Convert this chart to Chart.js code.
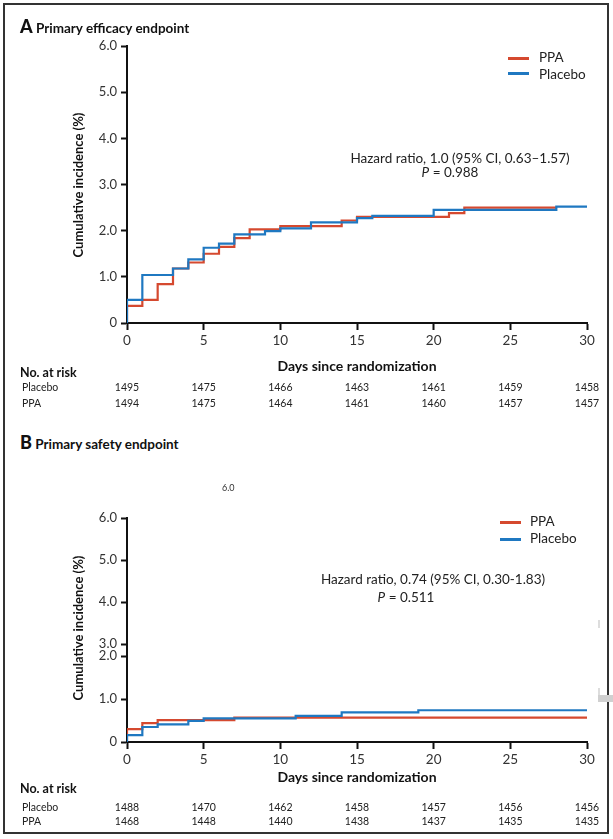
<!DOCTYPE html>
<html><head><meta charset="utf-8">
<script src="https://cdn.jsdelivr.net/npm/chart.js@4.4.1/dist/chart.umd.min.js"></script>
<style>
html,body{margin:0;padding:0}
body{width:613px;height:839px;position:relative;background:#fff;font-family:Lato,'Open Sans',sans-serif;color:#222;overflow:hidden}
.t{position:absolute;white-space:nowrap;line-height:1}
#frame{position:absolute;left:3px;top:3px;width:602px;height:827px;border:2px solid #333;box-sizing:content-box}
.cv{position:absolute;left:0}
.ttl{font-weight:700;font-size:13.5px;color:#111}
.ttl b{font-size:18px;font-weight:900}
.leg{font-size:13.5px;color:#222}
.legline{position:absolute;height:3px;width:21px}
.ann{font-size:13.5px;color:#222;text-align:center}
.ytitle{font-weight:700;font-size:13px;color:#111;transform:translate(-50%,-50%) rotate(-90deg)}
.xtitle{font-weight:700;font-size:14px;color:#111;transform:translate(-50%,-50%)}
.risk{font-size:10.5px;color:#222;transform:translate(-50%,-50%)}
.rlab{font-size:10.5px;color:#222;transform:translateY(-50%)}
.nar{font-weight:700;font-size:12.5px;color:#111;transform:translateY(-50%)}
</style></head><body>
<div id="frame"></div>
<canvas id="cA" class="cv" width="613" height="340" style="top:30px;width:613px;height:340px"></canvas>
<canvas id="cB" class="cv" width="613" height="300" style="top:470px;width:613px;height:300px"></canvas>

<div class="t ttl" style="left:20px;top:17px"><b>A</b> Primary efficacy endpoint</div>
<div class="t ttl" style="left:20px;top:433px"><b>B</b> Primary safety endpoint</div>
<div class="t" style="left:222px;top:483px;font-size:9px;color:#333">6.0</div>

<div class="legline" style="left:508px;top:57px;background:#d5492f"></div>
<div class="t leg" style="left:539px;top:51px">PPA</div>
<div class="legline" style="left:508px;top:72px;background:#1f78c1"></div>
<div class="t leg" style="left:539px;top:68px">Placebo</div>

<div class="legline" style="left:500px;top:521px;background:#d5492f"></div>
<div class="t leg" style="left:530px;top:515px">PPA</div>
<div class="legline" style="left:500px;top:538px;background:#1f78c1"></div>
<div class="t leg" style="left:530px;top:532px">Placebo</div>

<div class="t ann" style="left:460px;top:152px;transform:translateX(-50%)">Hazard ratio, 1.0 (95% CI, 0.63–1.57)</div>
<div class="t ann" style="left:450px;top:166px;transform:translateX(-50%)"><i>P</i> = 0.988</div>
<div class="t ann" style="left:433px;top:573px;transform:translateX(-50%)">Hazard ratio, 0.74 (95% CI, 0.30-1.83)</div>
<div class="t ann" style="left:406px;top:591px;transform:translateX(-50%)"><i>P</i> = 0.511</div>

<div class="t ytitle" style="left:78px;top:185px">Cumulative incidence (%)</div>
<div class="t ytitle" style="left:78px;top:628px">Cumulative incidence (%)</div>
<div class="t xtitle" style="left:357px;top:366px">Days since randomization</div>
<div class="t xtitle" style="left:357px;top:777px">Days since randomization</div>

<div class="t nar" style="left:20px;top:373px">No. at risk</div>
<div class="t nar" style="left:20px;top:789px">No. at risk</div>
<div class="t rlab" style="left:22px;top:387px">Placebo</div>
<div class="t rlab" style="left:22px;top:403px">PPA</div>
<div class="t rlab" style="left:22px;top:807px">Placebo</div>
<div class="t rlab" style="left:22px;top:821px">PPA</div>
<div id="tables"></div>

<div style="position:absolute;left:598px;top:620px;width:2px;height:8px;background:#ddd"></div>
<div style="position:absolute;left:598px;top:688px;width:2px;height:8px;background:#ddd"></div>
<div style="position:absolute;left:598px;top:695px;width:15px;height:7px;background:#d0d0d0"></div>

<script>
// ---- Data ----
const riskDays = [0, 5, 10, 15, 20, 25, 30];
const riskA_placebo = [1495, 1475, 1466, 1463, 1461, 1459, 1458];
const riskA_ppa     = [1494, 1475, 1464, 1461, 1460, 1457, 1457];
const riskB_placebo = [1488, 1470, 1462, 1458, 1457, 1456, 1456];
const riskB_ppa     = [1468, 1448, 1440, 1438, 1437, 1435, 1435];

const placeboA_days = [0, 0, 1, 3, 4, 5, 6, 7, 9, 10, 12, 15, 16, 20, 28, 30];
const placeboA_vals = [0, 0.50, 1.04, 1.18, 1.38, 1.63, 1.72, 1.92, 1.99, 2.05, 2.18, 2.27, 2.32, 2.45, 2.52, 2.52];
const ppaA_days = [0, 0, 1, 2, 3, 4, 5, 6, 7, 8, 10, 14, 15, 21, 22, 28];
const ppaA_vals = [0, 0.37, 0.50, 0.84, 1.18, 1.31, 1.50, 1.65, 1.84, 2.03, 2.10, 2.22, 2.30, 2.38, 2.50, 2.50];

const placeboB_days = [0, 0, 1, 2, 4, 5, 11, 14, 19, 30];
const placeboB_vals = [0, 0.16, 0.35, 0.41, 0.49, 0.55, 0.61, 0.69, 0.74, 0.74];
const ppaB_days = [0, 0, 1, 2, 7, 30];
const ppaB_vals = [0, 0.30, 0.44, 0.51, 0.57, 0.57];

const yTickLabels = ['0', '1.0', '2.0', '3.0', '4.0', '5.0', '6.0'];
const xTicks = [0, 5, 10, 15, 20, 25, 30];

// Panel B's printed axis: labels 3.0-6.0 sit shifted down and packed relative to the data scale
const B_UPPER_BASE = 2.28, B_UPPER_STEP = 0.98;
const yTickValsA = yTickLabels.map((_, k) => k);
const yTickValsB = yTickLabels.map((_, k) => k <= 2 ? k : B_UPPER_BASE + (k - 3) * B_UPPER_STEP);

const RED = '#d5492f', BLUE = '#1f78c1';
const pts = (d, v) => d.map((x, i) => ({x, y: v[i]}));

function makeChart(id, plc, ppa, geo, yVals, riskP, riskQ, rowY) {
  const ctx = document.getElementById(id);
  return new Chart(ctx, {
    type: 'line',
    data: {
      datasets: [
        {label: 'Placebo', data: plc, borderColor: BLUE, borderWidth: 2.2, stepped: true, pointRadius: 0, fill: false},
        {label: 'PPA', data: ppa, borderColor: RED, borderWidth: 2.2, stepped: true, pointRadius: 0, fill: false}
      ]
    },
    options: {
      responsive: false, animation: false, events: [],
      layout: {padding: {left: 0, right: geo.right, top: geo.top, bottom: 0}},
      plugins: {legend: {display: false}, tooltip: {enabled: false}},
      scales: {
        x: {
          type: 'linear', min: 0, max: 30,
          afterBuildTicks: s => { s.ticks = xTicks.map(v => ({value: v})); },
          afterFit: s => { s.height = geo.xh; },
          grid: {drawOnChartArea: false, drawTicks: true, tickLength: 7, tickWidth: 2, color: '#111'},
          border: {display: true, color: '#111', width: 2},
          ticks: {color: '#333', font: {family: 'Lato', size: 13.5}, padding: 3, maxRotation: 0,
                  callback: v => String(v)}
        },
        y: {
          type: 'linear', min: 0, max: yVals[yVals.length - 1],
          afterBuildTicks: s => { s.ticks = yVals.map(v => ({value: v})); },
          afterFit: s => { s.width = 127; },
          grid: {drawOnChartArea: false, drawTicks: true, tickLength: 6, tickWidth: 2, color: '#111'},
          border: {display: true, color: '#111', width: 2},
          ticks: {color: '#333', font: {family: 'Lato', size: 13}, padding: 4, autoSkip: false,
                  callback: (v, i) => yTickLabels[i]}
        }
      }
    },
    plugins: [{
      id: 'risk',
      afterRender(chart) {
        if (chart.$done) return; chart.$done = true;
        const xs = chart.scales.x;
        const host = document.getElementById('tables');
        riskDays.forEach((d, i) => {
          [[riskP, rowY[0]], [riskQ, rowY[1]]].forEach(([arr, y]) => {
            const el = document.createElement('div');
            el.className = 't risk';
            el.style.left = xs.getPixelForValue(d) + 'px';
            el.style.top = y + 'px';
            el.textContent = arr[i];
            host.appendChild(el);
          });
        });
      }
    }]
  });
}

// Chart A: canvas top 30; chart area top 46 -> 16, bottom 323 -> 293
makeChart('cA', pts(placeboA_days, placeboA_vals), pts(ppaA_days, ppaA_vals),
  {right: 26, top: 16, xh: 47}, yTickValsA, riskA_placebo, riskA_ppa, [387, 403]);
// Chart B: canvas top 470; chart area top ~518 -> 48, bottom 742 -> 272
makeChart('cB', pts(placeboB_days, placeboB_vals), pts(ppaB_days, ppaB_vals),
  {right: 26, top: 48, xh: 28}, yTickValsB, riskB_placebo, riskB_ppa, [807, 821]);
</script>
</body></html>
